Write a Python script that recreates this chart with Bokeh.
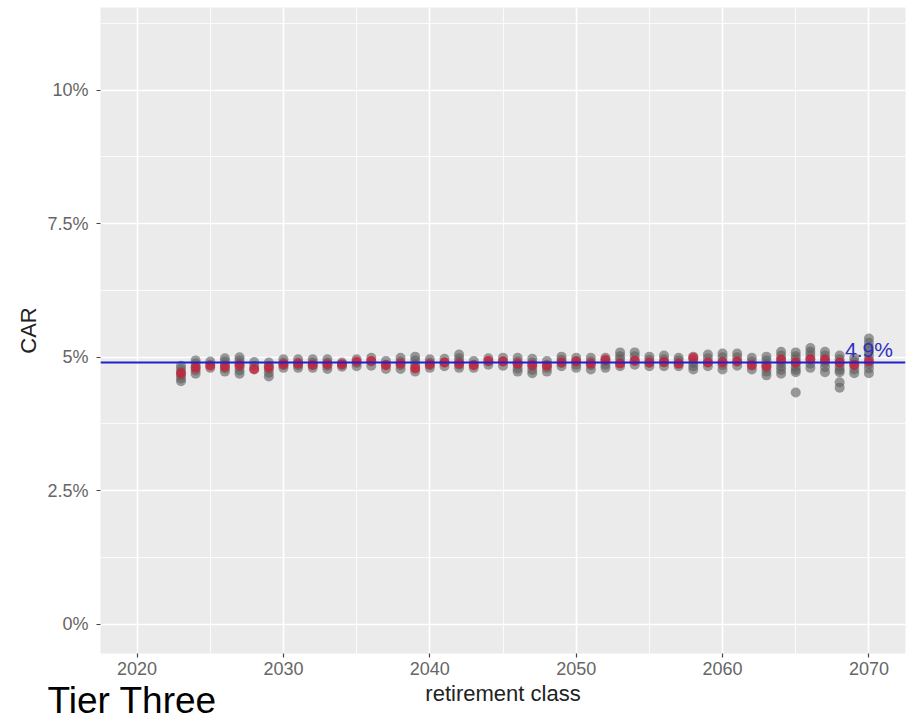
from bokeh.plotting import figure
from bokeh.models import Range1d, SingleIntervalTicker, CustomJSTickFormatter, Span, Label, ColumnDataSource, Title
from bokeh.embed import file_html
from bokeh.resources import INLINE

# ---------------- data (CAR in %) ----------------
years = [2023, 2024, 2025, 2026, 2027, 2028, 2029, 2030, 2031, 2032,
         2033, 2034, 2035, 2036, 2037, 2038, 2039, 2040, 2041, 2042,
         2043, 2044, 2045, 2046, 2047, 2048, 2049, 2050, 2051, 2052,
         2053, 2054, 2055, 2056, 2057, 2058, 2059, 2060, 2061, 2062,
         2063, 2064, 2065, 2066, 2067, 2068, 2069, 2070]

# all simulated outcomes per retirement class (grey points)
grey_values = [
    [4.84, 4.78, 4.72, 4.66, 4.60, 4.55],
    [4.94, 4.88, 4.82, 4.75, 4.69],
    [4.92, 4.86, 4.80],
    [4.98, 4.92, 4.86, 4.79, 4.73],
    [5.00, 4.94, 4.88, 4.82, 4.75, 4.69],
    [4.91, 4.84, 4.77],
    [4.90, 4.84, 4.78, 4.71, 4.64],
    [4.96, 4.90, 4.85, 4.80],
    [4.96, 4.90, 4.85, 4.80],
    [4.96, 4.90, 4.85, 4.80],
    [4.96, 4.90, 4.84, 4.78],
    [4.90, 4.86, 4.82],
    [4.96, 4.89, 4.83],
    [4.99, 4.92, 4.84],
    [4.93, 4.86, 4.78],
    [4.99, 4.92, 4.85, 4.78],
    [5.01, 4.94, 4.87, 4.80, 4.73],
    [4.96, 4.90, 4.85, 4.80],
    [4.97, 4.90, 4.83],
    [5.05, 4.98, 4.92, 4.86, 4.80],
    [4.93, 4.86, 4.80],
    [4.98, 4.92, 4.86],
    [4.99, 4.92, 4.84],
    [4.99, 4.92, 4.86, 4.79, 4.73],
    [4.97, 4.90, 4.83, 4.76, 4.70],
    [4.93, 4.86, 4.80, 4.73],
    [5.01, 4.95, 4.89, 4.83],
    [4.99, 4.93, 4.86, 4.80],
    [4.99, 4.92, 4.85, 4.77],
    [4.99, 4.93, 4.86, 4.80],
    [5.09, 5.02, 4.96, 4.89, 4.83],
    [5.09, 5.02, 4.94, 4.86],
    [5.01, 4.95, 4.89, 4.83],
    [5.03, 4.96, 4.90, 4.83],
    [4.99, 4.94, 4.88, 4.83],
    [5.01, 4.95, 4.89, 4.83, 4.77],
    [5.05, 4.98, 4.90, 4.83],
    [5.07, 5.00, 4.92, 4.85, 4.77],
    [5.07, 5.00, 4.92, 4.84],
    [4.99, 4.92, 4.84, 4.77],
    [5.01, 4.94, 4.87, 4.80, 4.73, 4.66],
    [5.10, 5.03, 4.96, 4.89, 4.82, 4.76, 4.69],
    [5.09, 5.02, 4.96, 4.89, 4.82, 4.76, 4.72, 4.34],
    [5.17, 5.10, 5.03, 4.96, 4.88, 4.80],
    [5.10, 5.03, 4.96, 4.89, 4.81, 4.72],
    [5.03, 4.96, 4.89, 4.82, 4.76, 4.72, 4.53, 4.43],
    [4.99, 4.92, 4.85, 4.77, 4.70],
    [5.35, 5.27, 5.19, 5.11, 5.03, 4.95, 4.87, 4.79, 4.70],
]

# baseline outcome per retirement class (red points)
red_values = [4.70, 4.80, 4.84, 4.82, 4.85, 4.78, 4.81, 4.87, 4.88, 4.86,
              4.87, 4.87, 4.92, 4.93, 4.85, 4.88, 4.79, 4.87, 4.90, 4.88,
              4.85, 4.93, 4.92, 4.88, 4.86, 4.84, 4.90, 4.92, 4.88, 4.95,
              4.88, 4.93, 4.90, 4.91, 4.88, 4.99, 4.90, 4.90, 4.92, 4.86,
              4.83, 4.95, 4.90, 4.96, 4.95, 4.90, 4.86, 4.92]

reference_car = 4.9
reference_label = "4.9%"
panel_label = "Tier Three"
x_title = "retirement class"
y_title = "CAR"

# ---------------- build ----------------
gx, gy = [], []
for yr, vals in zip(years, grey_values):
    for v in vals:
        gx.append(yr)
        gy.append(v)
grey_src = ColumnDataSource(dict(x=gx, y=gy))
red_src = ColumnDataSource(dict(x=years, y=red_values))

FONT = "Liberation Sans"

p = figure(width=911, height=723, output_backend="svg", toolbar_location=None,
           x_range=Range1d(2017.5, 2072.5), y_range=Range1d(-0.55, 11.55),
           min_border_left=100, min_border_right=6, min_border_top=7,
           min_border_bottom=70)
p.background_fill_color = "#ebebeb"
p.border_fill_color = "white"
p.outline_line_color = None

xt = SingleIntervalTicker(interval=10, num_minor_ticks=2)
yt = SingleIntervalTicker(interval=2.5, num_minor_ticks=2)
p.xaxis.ticker = xt
p.yaxis.ticker = yt
p.xgrid.ticker = xt
p.ygrid.ticker = yt
p.yaxis.formatter = CustomJSTickFormatter(code="return tick + '%';")

for g in (p.xgrid, p.ygrid):
    g.grid_line_color = "white"
    g.grid_line_width = 1.6
    g.minor_grid_line_color = "white"
    g.minor_grid_line_width = 0.8

for ax in (p.xaxis, p.yaxis):
    ax.axis_line_color = None
    ax.major_tick_line_color = "#444444"
    ax.major_tick_line_width = 1.2
    ax.major_tick_out = 4
    ax.major_tick_in = 0
    ax.minor_tick_line_color = None
    ax.major_label_text_font = FONT
    ax.major_label_text_font_size = "18px"
    ax.major_label_text_color = "#666666"
    ax.axis_label_text_font = FONT
    ax.axis_label_text_font_size = "22px"
    ax.axis_label_text_font_style = "normal"
    ax.axis_label_text_color = "#222222"

p.xaxis.axis_label = x_title
p.yaxis.axis_label = y_title
p.xaxis.major_label_standoff = 4
p.xaxis.axis_label_standoff = 3
p.yaxis.major_label_standoff = 8
p.yaxis.axis_label_standoff = 3

p.scatter("x", "y", source=grey_src, size=10, fill_color="#5e5e5e", fill_alpha=0.6,
          line_color=None)
p.scatter("x", "y", source=red_src, size=10, fill_color="#e0102e", fill_alpha=0.65,
          line_color=None)

p.add_layout(Span(location=reference_car, dimension="width", line_color="#2020cc",
                  line_width=2))
p.add_layout(Label(x=years[-1], y=reference_car, text=reference_label,
                   text_align="center", text_baseline="bottom", y_offset=2,
                   text_font=FONT, text_font_size="21px", text_color="#3030c0"))

# panel caption drawn in the bottom side panel, pulled up beside the axis title
p.add_layout(Title(text=panel_label, align="left", offset=-53, standoff=-58,
                   vertical_align="top",
                   text_font=FONT, text_font_size="37px", text_font_style="normal",
                   text_color="black"), "below")

open("out.html", "w").write(file_html(p, INLINE))
